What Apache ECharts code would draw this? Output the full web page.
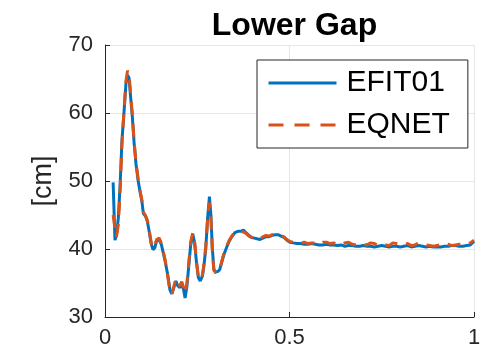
<!DOCTYPE html>
<html>
<head>
<meta charset="utf-8">
<script src="https://cdn.jsdelivr.net/npm/echarts@6/dist/echarts.min.js"></script>
<style>
  html, body { margin: 0; padding: 0; background: #fff; }
  #chart { width: 485px; height: 355px; }
</style>
</head>
<body>
<div id="chart"></div>
<script>
// Normalized time axis
const timeValues = [
  0.022, 0.027, 0.031, 0.036, 0.041, 0.046, 0.052, 0.057, 0.061, 0.065,
  0.070, 0.074, 0.079, 0.084, 0.090, 0.095, 0.100, 0.104, 0.110, 0.115,
  0.120, 0.125, 0.130, 0.135, 0.140, 0.147, 0.153, 0.158, 0.163, 0.170,
  0.176, 0.181, 0.186, 0.192, 0.197, 0.203, 0.208, 0.213, 0.217, 0.222,
  0.227, 0.232, 0.238, 0.243, 0.248, 0.253, 0.258, 0.264, 0.268, 0.273,
  0.278, 0.283, 0.287, 0.291, 0.295, 0.300, 0.306, 0.311, 0.317, 0.323,
  0.330, 0.337, 0.345, 0.352, 0.360, 0.368, 0.375, 0.382, 0.390, 0.397,
  0.405, 0.412, 0.420, 0.428, 0.436, 0.445, 0.453, 0.461, 0.469, 0.477,
  0.485, 0.493, 0.501, 0.510, 0.520, 0.530, 0.540, 0.550, 0.560, 0.570,
  0.580, 0.590, 0.600, 0.610, 0.620, 0.630, 0.640, 0.650, 0.660, 0.670,
  0.680, 0.690, 0.700, 0.710, 0.720, 0.730, 0.740, 0.750, 0.760, 0.770,
  0.780, 0.790, 0.800, 0.810, 0.820, 0.830, 0.840, 0.850, 0.860, 0.870,
  0.880, 0.890, 0.900, 0.910, 0.920, 0.930, 0.940, 0.950, 0.960, 0.970,
  0.980, 0.990, 1.000
];

// Lower gap from EFIT01 reconstruction [cm]
const efit01 = [
  49.8, 41.3, 42.0, 44.5, 49.5, 56.0, 60.5, 64.5, 65.6, 65.2,
  62.0, 59.5, 55.5, 52.5, 50.0, 48.4, 47.0, 45.2, 44.8, 44.0,
  42.5, 40.8, 39.9, 40.2, 41.2, 41.4, 40.6, 39.4, 38.2, 36.2,
  34.0, 33.4, 34.2, 35.3, 34.6, 34.3, 35.0, 34.0, 32.8, 34.5,
  37.5, 40.5, 42.2, 40.8, 38.0, 35.8, 35.3, 36.0, 37.5, 40.0,
  44.5, 47.7, 45.0, 40.0, 37.0, 36.6, 36.7, 37.0, 38.2, 39.3,
  40.3, 41.2, 41.9, 42.4, 42.6, 42.6, 42.8, 42.4, 42.0, 41.7,
  41.6, 41.5, 41.4, 41.6, 41.8, 41.8, 42.0, 42.1, 42.1, 41.9,
  41.7, 41.3, 41.0, 40.9, 40.8, 40.8, 40.7, 40.7, 40.8, 40.7,
  40.6, 40.6, 40.7, 40.6, 40.6, 40.5, 40.6, 40.4, 40.5, 40.5,
  40.4, 40.4, 40.5, 40.4, 40.4, 40.3, 40.4, 40.5, 40.4, 40.3,
  40.4, 40.4, 40.3, 40.4, 40.5, 40.3, 40.4, 40.5, 40.4, 40.3,
  40.4, 40.3, 40.3, 40.3, 40.4, 40.4, 40.5, 40.5, 40.4, 40.4,
  40.5, 40.6, 41.1
];

// Lower gap predicted by EQNET [cm]
const eqnet = [
  45.0, 43.0, 41.8, 43.5, 48.5, 55.5, 60.8, 64.8, 66.2, 65.8,
  62.5, 59.8, 55.8, 52.8, 50.2, 48.6, 47.2, 45.4, 44.9, 44.2,
  42.7, 41.0, 40.1, 40.6, 41.4, 41.6, 40.8, 39.6, 38.4, 36.0,
  33.8, 33.3, 34.4, 35.6, 34.8, 34.6, 35.2, 34.3, 33.5, 35.0,
  38.0, 41.0, 42.4, 41.0, 38.2, 35.9, 35.4, 36.2, 37.8, 40.3,
  44.3, 46.8, 44.5, 39.6, 36.9, 36.5, 36.6, 37.0, 38.3, 39.5,
  40.5, 41.3, 42.0, 42.4, 42.6, 42.5, 42.5, 42.3, 41.9, 41.7,
  41.8, 41.6, 41.5, 41.8, 42.0, 41.9, 42.1, 42.2, 42.1, 42.0,
  41.8, 41.4, 41.1, 41.0, 41.0, 40.9, 41.0, 40.8, 40.9, 40.9,
  40.7, 41.0, 41.0, 40.8, 40.9, 40.6, 40.7, 40.9, 41.0, 40.7,
  40.6, 40.5, 40.7, 40.6, 40.9, 40.8, 40.5, 40.5, 40.6, 40.5,
  40.9, 40.8, 40.6, 40.7, 40.8, 40.5, 40.6, 40.9, 40.7, 40.6,
  40.5, 40.4, 40.5, 40.7, 40.9, 40.7, 40.5, 40.6, 40.7, 40.6,
  40.7, 40.9, 41.3
];

const seriesNames = ['EFIT01', 'EQNET'];
const seriesColors = ['#0072BD', '#D95319'];
const yTicks = [30, 40, 50, 60, 70];
const xTicks = [0, 0.5, 1];

const pairs = (xs, ys) => xs.map((x, i) => [x, ys[i]]);

const chart = echarts.init(document.getElementById('chart'), null, { renderer: 'canvas' });

const axisColor = '#262626';
const fontFamily = 'Liberation Sans, Arial, Helvetica, sans-serif';

chart.setOption({
  animation: false,
  backgroundColor: '#ffffff',
  title: {
    text: 'Lower Gap',
    left: 289.5,
    textAlign: 'center',
    top: 5,
    textStyle: { fontFamily, fontSize: 32, fontWeight: 'bold', color: '#000' }
  },
  grid: { left: 105, right: 11, top: 45, bottom: 38, containLabel: false },
  xAxis: {
    type: 'value',
    min: xTicks[0],
    max: xTicks[xTicks.length - 1],
    interval: 0.5,
    axisLine: { show: true, onZero: false, lineStyle: { color: axisColor, width: 1 } },
    axisTick: { show: true, inside: true, length: 5, lineStyle: { color: axisColor } },
    axisLabel: { color: axisColor, fontFamily, fontSize: 22, margin: 10 },
    splitLine: { show: true, lineStyle: { color: '#e6e6e6', width: 1 } }
  },
  yAxis: {
    type: 'value',
    min: yTicks[0],
    max: yTicks[yTicks.length - 1],
    interval: 10,
    name: '[cm]',
    nameLocation: 'middle',
    nameGap: 48,
    nameRotate: 90,
    nameTextStyle: { color: axisColor, fontFamily, fontSize: 27 },
    axisLine: { show: true, lineStyle: { color: axisColor, width: 1 } },
    axisTick: { show: true, inside: true, length: 5, lineStyle: { color: axisColor } },
    axisLabel: { color: axisColor, fontFamily, fontSize: 22, margin: 12 },
    splitLine: { show: true, lineStyle: { color: '#e6e6e6', width: 1 } }
  },
  legend: {
    orient: 'vertical',
    left: 257,
    top: 60,
    padding: [6, 18, 6, 10],
    itemGap: 8,
    itemWidth: 68,
    itemHeight: 34,
    backgroundColor: '#ffffff',
    borderColor: axisColor,
    borderWidth: 1,
    borderRadius: 0,
    // only the line sample is shown, the marker symbol is hidden
    itemStyle: { opacity: 0 },
    textStyle: { color: '#000', fontFamily, fontSize: 30, lineHeight: 34, padding: [0, 0, 0, 5] },
    data: [
      { name: seriesNames[0], lineStyle: { color: seriesColors[0], width: 3, type: 'solid' } },
      { name: seriesNames[1], lineStyle: { color: seriesColors[1], width: 3, type: [15, 11] } }
    ]
  },
  series: [
    {
      name: seriesNames[0],
      type: 'line',
      data: pairs(timeValues, efit01),
      symbol: 'none',
      lineStyle: { color: seriesColors[0], width: 3 },
      itemStyle: { color: seriesColors[0] },
      z: 2
    },
    {
      name: seriesNames[1],
      type: 'line',
      data: pairs(timeValues, eqnet),
      symbol: 'none',
      lineStyle: { color: seriesColors[1], width: 3, type: [13, 9] },
      itemStyle: { color: seriesColors[1] },
      z: 3
    }
  ]
});
</script>
</body>
</html>
